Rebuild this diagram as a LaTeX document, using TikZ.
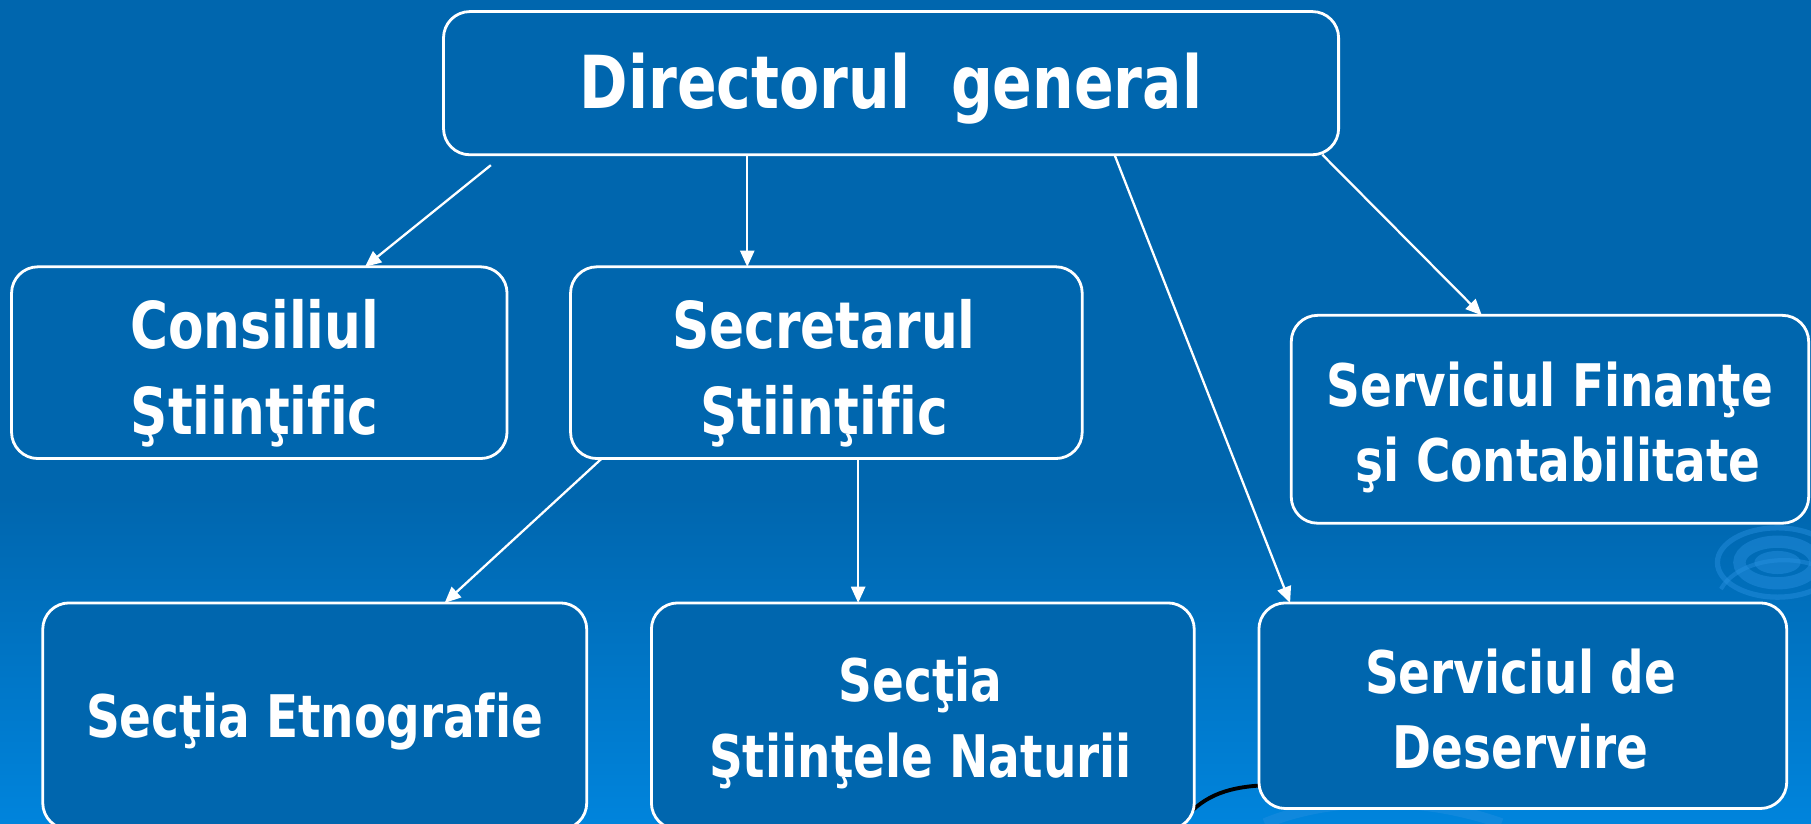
\documentclass[tikz,border=0pt]{standalone}
\usepackage{fontspec}
\newfontfamily\tah{DejaVu Sans Bold}[FakeStretch=0.8, Ligatures=NoCommon]
\usetikzlibrary{arrows.meta,calc}
\definecolor{bgtop}{RGB}{0,102,174}
\definecolor{bgbot}{RGB}{0,132,220}
\definecolor{boxfill}{RGB}{0,102,174}
\definecolor{ripple}{RGB}{40,145,225}
\tikzset{
  box/.style={draw=white, line width=0.8pt, fill=boxfill, rounded corners=7.5pt,
    inner sep=0pt, outer sep=0pt},
  txt/.style={inner sep=0pt, align=center, text=white},
  big/.style={txt, font=\tah\fontsize{20.8}{26}\selectfont},
  mid/.style={txt, font=\tah\fontsize{18.4}{24.3}\selectfont},
  sml/.style={txt, font=\tah\fontsize{16.7}{21.4}\selectfont},
  arr/.style={draw=white, line width=0.65pt, -{Triangle[length=4.6pt,width=4pt]}},
  ripl/.style={draw=ripple, line width=2pt}
}
\begin{document}
\begin{tikzpicture}[x=0.1155mm, y=-0.1155mm]
\useasboundingbox (0,0) rectangle (1568,713);
% background
\fill[bgtop] (0,0) rectangle (1568,713);
\shade[top color=bgtop, bottom color=bgbot] (0,430) rectangle (1568,713);
% ripples (background decoration)
\begin{scope}[opacity=0.45]
  \fill[ripple] (1539,487) ellipse (20 and 10);
  \draw[ripl, line width=3.5pt] (1539,487) ellipse (33 and 18);
  \draw[ripl, line width=1.5pt] (1539,487) ellipse (52 and 30);
  \draw[ripl, line width=1.2pt] (1490,510) arc (200:330:58 and 38);
\end{scope}
\draw[ripple, opacity=0.4, line width=3pt] (1095,713) .. controls (1150,690) and (1230,688) .. (1300,713);
\draw[black, line width=1.1pt] (1022,713) .. controls (1040,690) and (1060,682) .. (1092,680);
% boxes
\node[box, minimum width={775*0.3286pt}, minimum height={124*0.3286pt}] (dir) at (771.5,72) {};
\node[box, minimum width={429*0.3286pt}, minimum height={166*0.3286pt}] (con) at (224.5,314) {};
\node[box, minimum width={443*0.3286pt}, minimum height={166*0.3286pt}] (sec) at (715.5,314) {};
\node[box, minimum width={448*0.3286pt}, minimum height={180*0.3286pt}] (fin) at (1342,363) {};
\node[box, minimum width={471*0.3286pt}, minimum height={196*0.3286pt}] (etn) at (272.5,620) {};
\node[box, minimum width={470*0.3286pt}, minimum height={196*0.3286pt}] (nat) at (799,620) {};
\node[box, minimum width={457*0.3286pt}, minimum height={178*0.3286pt}] (des) at (1318.5,611) {};
% texts
\node[big] (dirT) at ($(dir.center)+(0,5)$) {Directorul\ \ general};
\node[mid] (conT) at ($(con.center)+(-4,9)$) {Consiliul\\ Ştiinţific};
\node[mid] (secT) at ($(sec.center)+(-2,9)$) {Secretarul\\ Ştiinţific};
\node[sml] (finT) at ($(fin.center)+(0,7)$) {Serviciul Finanţe\\ \ şi Contabilitate};
\node[sml] (etnT) at ($(etn.center)+(0,5)$) {Secţia Etnografie};
\node[sml] (natT) at ($(nat.center)+(-2,6)$) {Secţia\\ Ştiinţele Naturii};
\node[sml] (desT) at ($(des.center)+(-2,3)$) {Serviciul de\\ Deservire};
% connectors
\draw[arr] ($(dir.south west)+(41,9)$) -- ($(con.north west)+(306,0)$);
\draw[arr] ($(dir.south west)+(263,0)$) -- ($(sec.north west)+(153,0)$);
\draw[arr] ($(dir.south west)+(581,0)$) -- ($(des.north west)+(27,0)$);
\draw[arr] ($(dir.south west)+(761,0)$) -- ($(fin.north west)+(165,0)$);
\draw[arr] ($(sec.south west)+(27,0)$) -- ($(etn.north west)+(348,0)$);
\draw[arr] ($(sec.south west)+(249,0)$) -- ($(nat.north west)+(179,0)$);
\end{tikzpicture}
\end{document}
